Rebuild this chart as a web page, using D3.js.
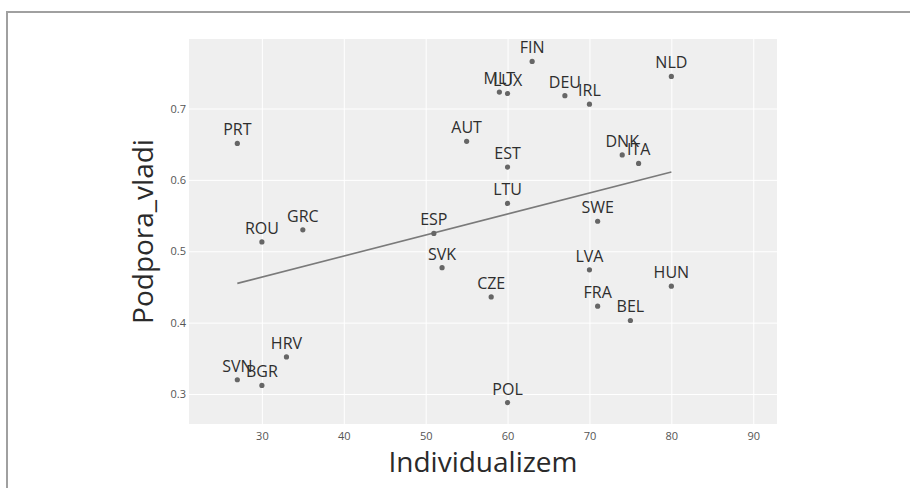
<!DOCTYPE html>
<html><head><meta charset="utf-8">
<script src="https://cdn.jsdelivr.net/npm/d3@7"></script>
<style>body{margin:0;background:#fff}svg{display:block}text{font-family:"Open Sans",sans-serif}</style>
</head><body><svg id="c" width="910" height="488"></svg>
<script>
const countries = ["PRT","AUT","FIN","MLT","LUX","DEU","IRL","NLD","EST","DNK","ITA","LTU","ROU","GRC","ESP","SVK","HRV","SVN","BGR","SWE","LVA","CZE","HUN","FRA","BEL","POL"];
const individualizem = [27,55,63,59,60,67,70,80,60,74,76,60,30,35,51,52,33,27,30,71,70,58,80,71,75,60];
const podporaVladi = [0.651,0.654,0.766,0.723,0.721,0.718,0.706,0.745,0.618,0.635,0.623,0.567,0.513,0.530,0.525,0.477,0.352,0.320,0.312,0.542,0.474,0.436,0.451,0.423,0.403,0.288];
const trendX = [27,80];
const trendY = [0.455,0.611];
const xTicks = [30,40,50,60,70,80,90];
const yTicks = [0.3,0.4,0.5,0.6,0.7];

const svg = d3.select("#c");
const L=189, R=777, T=39, B=424;
const x = d3.scaleLinear().domain([21.1,92.9]).range([L,R]);
const y = d3.scaleLinear().domain([0.3,0.7]).range([394,108.5]);

// frame border
svg.append("path").attr("d","M7,488V12H910").attr("fill","none").attr("stroke","#a0a0a0").attr("stroke-width",2);

svg.append("rect").attr("x",L).attr("y",T).attr("width",R-L).attr("height",B-T).attr("fill","#efefef");

const gx = svg.append("g").attr("transform",`translate(0,${B})`)
  .call(d3.axisBottom(x).tickValues(xTicks).tickSize(-(B-T)).tickPadding(8).tickFormat(d3.format("d")));
const gy = svg.append("g").attr("transform",`translate(${L},0)`)
  .call(d3.axisLeft(y).tickValues(yTicks).tickSize(-(R-L)).tickPadding(3).tickFormat(d3.format(".1f")));
[gx,gy].forEach(g=>{
  g.select(".domain").remove();
  g.selectAll(".tick line").attr("stroke","#fff").attr("stroke-width",1);
  g.selectAll(".tick text").attr("fill","#555").attr("font-size",11).attr("font-family","Open Sans, sans-serif");
});

svg.append("line")
  .attr("x1",x(trendX[0])).attr("y1",y(trendY[0]))
  .attr("x2",x(trendX[1])).attr("y2",y(trendY[1]))
  .attr("stroke","#7a7a7a").attr("stroke-width",1.6);

const pts = countries.map((c,i)=>({c, x:individualizem[i], y:podporaVladi[i]}));
svg.append("g").selectAll("circle").data(pts).join("circle")
  .attr("cx",d=>x(d.x)).attr("cy",d=>y(d.y)).attr("r",2.6).attr("fill","#666");
svg.append("g").selectAll("text").data(pts).join("text")
  .attr("x",d=>x(d.x)).attr("y",d=>y(d.y)-8)
  .attr("text-anchor","middle").attr("font-size",16).attr("fill","#2e2e2e")
  .text(d=>d.c);

svg.append("text").attr("x",(L+R)/2).attr("y",472).attr("text-anchor","middle")
  .attr("font-size",28).attr("fill","#2a2a2a").text("Individualizem");
svg.append("text").attr("transform",`translate(153,${(T+B)/2}) rotate(-90)`).attr("text-anchor","middle")
  .attr("font-size",28).attr("fill","#2a2a2a").text("Podpora_vladi");
</script></body></html>
